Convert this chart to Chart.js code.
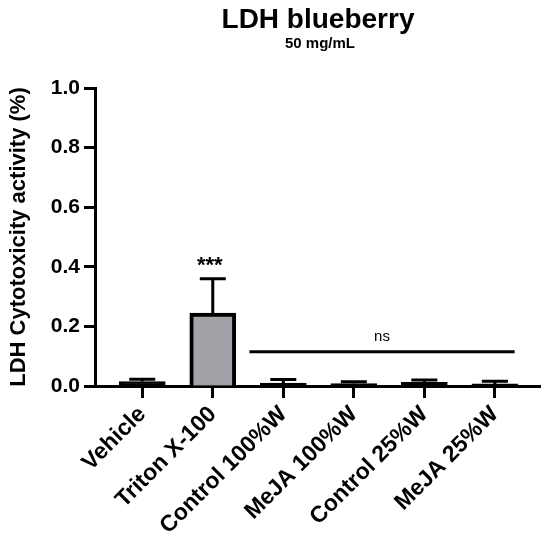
<!DOCTYPE html>
<html>
<head>
<meta charset="utf-8">
<script src="https://cdn.jsdelivr.net/npm/chart.js@4/dist/chart.umd.min.js"></script>
<style>
  body { margin: 0; background: #fff; }
  #wrap { width: 550px; height: 540px; }
</style>
</head>
<body>
<div id="wrap"><canvas id="ldhChart" width="550" height="540"></canvas></div>
<script>
// data
const categories = ['Vehicle', 'Triton X-100', 'Control 100%W', 'MeJA 100%W', 'Control 25%W', 'MeJA 25%W'];
const means = [0.015, 0.245, 0.010, 0.008, 0.012, 0.007];
const sds = [0.008, 0.115, 0.012, 0.006, 0.008, 0.009];
const barColors = ['#000000', '#a3a2a8', '#000000', '#000000', '#000000', '#000000'];
const yTicks = [0, 0.2, 0.4, 0.6, 0.8, 1.0];

// significance marks (data units)
const starMark = { x: 1, y: 0.415, text: '***' };
const nsMark = { from: 1.52, to: 5.28, y: 0.115, labelY: 0.165, text: 'ns' };

const FONT = '"Liberation Sans", Arial, Helvetica, sans-serif';

const extras = {
    id: 'extras',
    afterDatasetsDraw(chart) {
        const { ctx, scales: { x, y } } = chart;
        ctx.save();
        ctx.strokeStyle = '#000';
        ctx.fillStyle = '#000';
        ctx.lineWidth = 3;
        ctx.lineCap = 'butt';

        // error bars (upper only)
        means.forEach((m, i) => {
            const px = x.getPixelForValue(i);
            const y0 = y.getPixelForValue(m);
            const y1 = y.getPixelForValue(m + sds[i]);
            ctx.beginPath();
            ctx.moveTo(px, y0);
            ctx.lineTo(px, y1);
            ctx.moveTo(px - 13, y1);
            ctx.lineTo(px + 13, y1);
            ctx.stroke();
        });

        // ns line
        ctx.beginPath();
        ctx.moveTo(x.getPixelForValue(nsMark.from), y.getPixelForValue(nsMark.y));
        ctx.lineTo(x.getPixelForValue(nsMark.to), y.getPixelForValue(nsMark.y));
        ctx.stroke();

        ctx.textAlign = 'center';
        ctx.textBaseline = 'middle';
        ctx.font = '15px ' + FONT;
        ctx.fillText(nsMark.text, x.getPixelForValue((nsMark.from + nsMark.to) / 2), y.getPixelForValue(nsMark.labelY));

        ctx.font = 'bold 22px ' + FONT;
        ctx.fillText(starMark.text, x.getPixelForValue(starMark.x) - 3, y.getPixelForValue(starMark.y) + 4);

        // titles
        ctx.textBaseline = 'alphabetic';
        ctx.font = 'bold 28px ' + FONT;
        ctx.fillText('LDH blueberry', 318, 28);
        ctx.font = 'bold 15px ' + FONT;
        ctx.fillText('50 mg/mL', 320, 48);
        ctx.restore();
    }
};

const ctx = document.getElementById('ldhChart').getContext('2d');
const ldhChart = new Chart(ctx, {
    type: 'bar',
    data: {
        datasets: [{
            data: categories.map((c, i) => ({ x: i, y: means[i] })),
            backgroundColor: barColors,
            borderColor: '#000',
            borderWidth: 4,
            barThickness: 46
        }]
    },
    options: {
        responsive: false,
        animation: false,
        layout: { padding: { top: 88, right: 10, left: 0, bottom: 0 } },
        plugins: {
            legend: { display: false },
            tooltip: { enabled: false }
        },
        scales: {
            x: {
                type: 'linear',
                offset: false,
                min: -0.67,
                max: 5.64,
                afterBuildTicks: (axis) => { axis.ticks = categories.map((c, i) => ({ value: i })); },
                afterFit: (scale) => { scale.height = 154; },
                grid: { display: true, offset: false, drawOnChartArea: false, tickLength: 12, tickWidth: 3, tickColor: '#000' },
                border: { color: '#000', width: 3 },
                ticks: {
                    callback: (v) => categories[v],
                    minRotation: 45,
                    maxRotation: 45,
                    autoSkip: false,
                    color: '#000',
                    padding: 3,
                    font: { family: FONT, size: 23, weight: 'bold' }
                }
            },
            y: {
                min: 0,
                max: 1,
                afterBuildTicks: (axis) => { axis.ticks = yTicks.map(v => ({ value: v })); },
                afterFit: (scale) => { scale.width = 95; },
                grid: { display: true, drawOnChartArea: false, tickLength: 11, tickWidth: 3, tickColor: '#000' },
                border: { color: '#000', width: 3 },
                ticks: {
                    callback: (v) => v.toFixed(1),
                    color: '#000',
                    padding: 4,
                    font: { family: FONT, size: 21, weight: 'bold' }
                },
                title: {
                    display: true,
                    text: 'LDH Cytotoxicity activity (%)',
                    color: '#000',
                    padding: { top: 6, bottom: 0 },
                    font: { family: FONT, size: 22, weight: 'bold' }
                }
            }
        }
    },
    plugins: [extras]
});
</script>
</body>
</html>
